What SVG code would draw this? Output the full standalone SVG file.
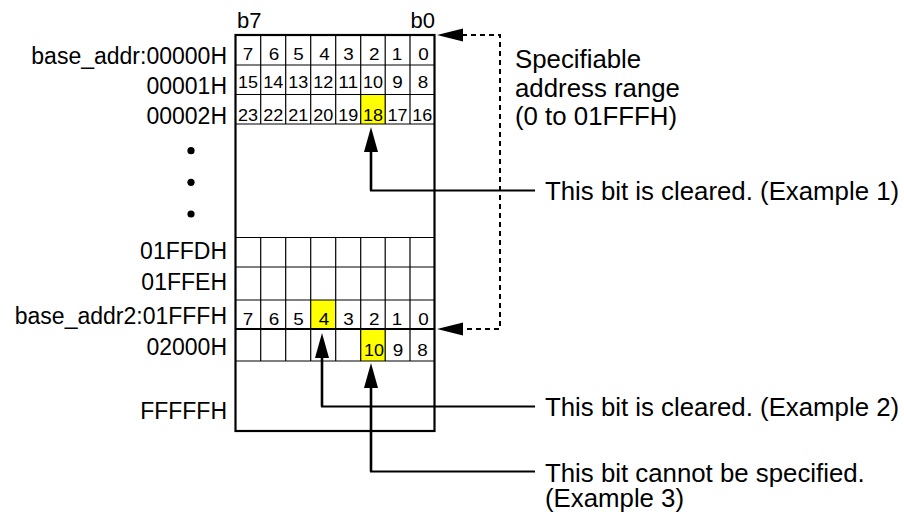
<svg xmlns="http://www.w3.org/2000/svg" width="904" height="515" viewBox="0 0 904 515">
<style>
text{font-family:"Liberation Sans",Arial,sans-serif;fill:#000}
.lbl{font-size:23px;text-anchor:end}
.rt{font-size:25.8px}
.bit{font-size:16.5px;text-anchor:middle}
.hdr{font-size:22px}
.grid{stroke:#000;stroke-width:1.2;fill:none}
.box{stroke:#000;stroke-width:2.2;fill:none}
.hl{fill:#FFFF00}
.vconn{stroke:#000;stroke-width:2.6;fill:none}
.hconn{stroke:#000;stroke-width:1.8;fill:none}
.dash{stroke:#000;stroke-width:2;fill:none;stroke-dasharray:5,4}
.ah{fill:#000}
</style>

<g id="memory">
  <rect x="235.5" y="35" width="199" height="396" fill="#fff"/>
  <rect class="hl" x="360.7" y="94.5" width="24.5" height="29.5"/>
  <rect class="hl" x="310.7" y="300" width="25" height="29"/>
  <rect class="hl" x="360.7" y="329" width="24.5" height="32"/>
  <path class="grid" d="M235.5 65H434.5M235.5 94.5H434.5M235.5 124H434.5
    M260.7 35V124M285.7 35V124M310.7 35V124M335.7 35V124M360.7 35V124M385.2 35V124M410 35V124"/>
  <path class="grid" d="M235.5 237.5H434.5M235.5 267H434.5M235.5 300H434.5M235.5 361H434.5
    M260.7 237.5V361M285.7 237.5V361M310.7 237.5V361M335.7 237.5V361M360.7 237.5V361M385.2 237.5V361M410 237.5V361"/>
  <path class="box" d="M235.5 329H434.5"/>
  <rect class="box" x="235.5" y="35" width="199" height="396"/>
  <text class="hdr" x="237" y="28">b7</text>
  <text class="hdr" x="435" y="28" text-anchor="end">b0</text>
</g>

<g id="row0">
  <text class="lbl" x="227" y="64">base_addr:00000H</text>
  <text class="bit" x="248.1" y="60" textLength="10.5" lengthAdjust="spacingAndGlyphs">7</text><text class="bit" x="274" y="60" textLength="10.5" lengthAdjust="spacingAndGlyphs">6</text>
  <text class="bit" x="298.4" y="60" textLength="10.5" lengthAdjust="spacingAndGlyphs">5</text><text class="bit" x="324.5" y="60" textLength="10.5" lengthAdjust="spacingAndGlyphs">4</text>
  <text class="bit" x="348.5" y="60" textLength="10.5" lengthAdjust="spacingAndGlyphs">3</text><text class="bit" x="374.3" y="60" textLength="10.5" lengthAdjust="spacingAndGlyphs">2</text>
  <text class="bit" x="397" y="60" textLength="10.5" lengthAdjust="spacingAndGlyphs">1</text><text class="bit" x="423.5" y="60" textLength="10.5" lengthAdjust="spacingAndGlyphs">0</text>
</g>
<g id="row1">
  <text class="lbl" x="227" y="93.5">00001H</text>
  <text class="bit" x="248.1" y="88" textLength="20" lengthAdjust="spacingAndGlyphs">15</text><text class="bit" x="273.2" y="88" textLength="20" lengthAdjust="spacingAndGlyphs">14</text>
  <text class="bit" x="298.2" y="88" textLength="20" lengthAdjust="spacingAndGlyphs">13</text><text class="bit" x="323.2" y="88" textLength="20" lengthAdjust="spacingAndGlyphs">12</text>
  <text class="bit" x="348.2" y="88" textLength="20" lengthAdjust="spacingAndGlyphs">11</text><text class="bit" x="373" y="88" textLength="20" lengthAdjust="spacingAndGlyphs">10</text>
  <text class="bit" x="397.6" y="88" textLength="10.5" lengthAdjust="spacingAndGlyphs">9</text><text class="bit" x="423" y="88" textLength="10.5" lengthAdjust="spacingAndGlyphs">8</text>
</g>
<g id="row2">
  <text class="lbl" x="227" y="123.5">00002H</text>
  <text class="bit" x="248.1" y="121" textLength="20" lengthAdjust="spacingAndGlyphs">23</text><text class="bit" x="273.2" y="121" textLength="20" lengthAdjust="spacingAndGlyphs">22</text>
  <text class="bit" x="298.2" y="121" textLength="20" lengthAdjust="spacingAndGlyphs">21</text><text class="bit" x="323.2" y="121" textLength="20" lengthAdjust="spacingAndGlyphs">20</text>
  <text class="bit" x="348.2" y="121" textLength="20" lengthAdjust="spacingAndGlyphs">19</text><text class="bit" x="373" y="121" textLength="20" lengthAdjust="spacingAndGlyphs">18</text>
  <text class="bit" x="397.6" y="121" textLength="20" lengthAdjust="spacingAndGlyphs">17</text><text class="bit" x="422.2" y="121" textLength="20" lengthAdjust="spacingAndGlyphs">16</text>
</g>
<g id="dots">
  <circle cx="191" cy="150.7" r="3.6"/>
  <circle cx="191" cy="182.3" r="3.6"/>
  <circle cx="191" cy="214" r="3.6"/>
</g>
<g id="row1FFFD"><text class="lbl" x="227" y="258.5">01FFDH</text></g>
<g id="row1FFFE"><text class="lbl" x="227" y="290">01FFEH</text></g>
<g id="row1FFFF">
  <text class="lbl" x="227" y="323.5">base_addr2:01FFFH</text>
  <text class="bit" x="248.1" y="325" textLength="10.5" lengthAdjust="spacingAndGlyphs">7</text><text class="bit" x="274" y="325" textLength="10.5" lengthAdjust="spacingAndGlyphs">6</text>
  <text class="bit" x="298.4" y="325" textLength="10.5" lengthAdjust="spacingAndGlyphs">5</text><text class="bit" x="324" y="325" textLength="10.5" lengthAdjust="spacingAndGlyphs">4</text>
  <text class="bit" x="348.5" y="325" textLength="10.5" lengthAdjust="spacingAndGlyphs">3</text><text class="bit" x="374.3" y="325" textLength="10.5" lengthAdjust="spacingAndGlyphs">2</text>
  <text class="bit" x="397" y="325" textLength="10.5" lengthAdjust="spacingAndGlyphs">1</text><text class="bit" x="423.5" y="325" textLength="10.5" lengthAdjust="spacingAndGlyphs">0</text>
</g>
<g id="row2000">
  <text class="lbl" x="227" y="355">02000H</text>
  <text class="bit" x="374" y="356" textLength="20" lengthAdjust="spacingAndGlyphs">10</text><text class="bit" x="398" y="356" textLength="10.5" lengthAdjust="spacingAndGlyphs">9</text>
  <text class="bit" x="422.5" y="356" textLength="10.5" lengthAdjust="spacingAndGlyphs">8</text>
</g>
<g id="rowFFFFF"><text class="lbl" x="227" y="419">FFFFFH</text></g>

<g id="range-label">
  <text class="rt" x="515" y="68">Specifiable</text>
  <text class="rt" x="515" y="96.5">address range</text>
  <text class="rt" x="515" y="125">(0 to 01FFFH)</text>
</g>
<g id="ex1-label"><text class="rt" x="545" y="200">This bit is cleared. (Example 1)</text></g>
<g id="ex2-label"><text class="rt" x="545" y="416">This bit is cleared. (Example 2)</text></g>
<g id="ex3-label">
  <text class="rt" x="545" y="481.5">This bit cannot be specified.</text>
  <text class="rt" x="545" y="507">(Example 3)</text>
</g>

<g id="connectors">
  <path class="dash" d="M462 35H500V329H462"/>
  <polygon class="ah" points="437,35 463,28.5 463,41.5"/>
  <polygon class="ah" points="437,329 463,322.5 463,335.5"/>
  <path class="vconn" d="M371 150V190.5"/>
  <path class="hconn" d="M370 190.5H535"/>
  <polygon class="ah" points="371,127 364,152 378,152"/>
  <path class="vconn" d="M322 356V406.5"/>
  <path class="hconn" d="M321 406.5H535"/>
  <polygon class="ah" points="322,333 315,358 329,358"/>
  <path class="vconn" d="M371 385V471.5"/>
  <path class="hconn" d="M370 471.5H535"/>
  <polygon class="ah" points="371,363 364,388 378,388"/>
</g>
</svg>
